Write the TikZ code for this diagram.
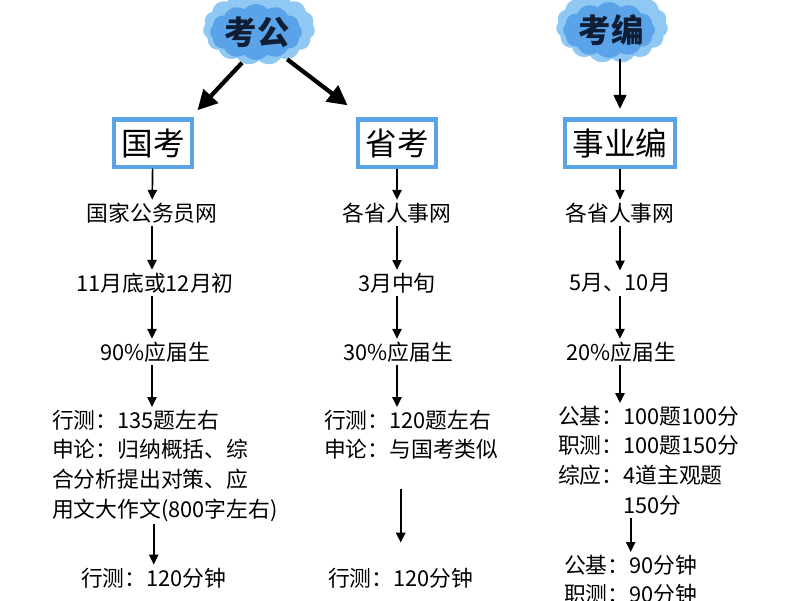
\documentclass[tikz,border=0pt]{standalone}
\usepackage{fontspec}
\setmainfont{Noto Sans CJK SC}
\usetikzlibrary{arrows.meta,calc,shapes.symbols}
\definecolor{BoxBlue}{HTML}{5AA4E6}
\definecolor{CloudLight}{HTML}{8FC8F3}
\definecolor{CloudDark}{HTML}{5AA3E8}
\definecolor{CloudInk}{HTML}{0F1E35}
\tikzset{
    title/.style = {draw=BoxBlue, line width=3pt, rectangle, fill=white,
        minimum height=1.18cm, inner xsep=5.5pt,
        font=\fontsize{22.5}{26}\selectfont},
    cloudbg/.style = {cloud, cloud puffs=15, cloud puff arc=100, fill=CloudLight,
        minimum width=2.8cm, minimum height=1.85cm},
    cloudin/.style = {cloud, cloud puffs=12, cloud puff arc=100, fill=CloudDark,
        minimum width=2.3cm, minimum height=1.4cm},
    head/.style = {font=\bfseries\fontsize{23}{26}\selectfont, text=CloudInk},
    txt/.style = {inner sep=2pt, font=\fontsize{15.5}{21}\selectfont},
    para/.style = {txt, align=left, anchor=north west},
    arrow/.style = {draw, line width=1.2pt, -{Triangle[length=7pt,width=6.5pt]}},
    bigarrow/.style = {draw, line width=3pt, -{Triangle[length=14pt,width=14pt]}},
    midarrow/.style = {draw, line width=1.8pt, -{Triangle[length=10pt,width=9pt]}}
}
\begin{document}
\begin{tikzpicture}[x=0.025cm, y=-0.025cm]
\useasboundingbox (0,0) rectangle (800,600);
\fill[white] (0,0) rectangle (800,600);

% clouds
\node[cloudbg] (kgbg) at (259,28) {};
\node[cloudin] (kgin) at (256,32) {};
\node[head] (kg) at (257,32) {考公};
\node[cloudbg] (kbbg) at (612,26) {};
\node[cloudin] (kbin) at (609,30) {};
\node[head] (kb) at (611,30) {考编};

% boxes
\node[title] (gk) at (153,143) {国考};
\node[title] (sk) at (397,143) {省考};
\node[title] (syb) at (620,143) {事业编};

\draw[bigarrow] (kgbg.244) -- ($(gk.north east)+(3,-7)$);
\draw[bigarrow] (kgbg.312) -- ($(sk.north west)+(-8,-12)$);
\draw[midarrow, shorten >=6pt] (kbbg.south -| syb) -- (syb.north);

% guokao
\node[txt] (g1) at (152,213) {国家公务员网};
\node[txt] (g2) at (155,283) {11月底或12月初};
\node[txt] (g3) at (155,352) {90\%应届生};
\node[para] (gb) at (49,407) {行测：135题左右\\申论：归纳概括、综\\合分析提出对策、应\\用文大作文(800字左右)};
\node[txt, anchor=base west] (g5) at (78,586) {行测：120分钟};
\draw[arrow] (gk) -- (g1);
\draw[arrow] (g1) -- (g1 |- g2.north);
\draw[arrow] (g2.south -| g1) -- (g1 |- g3.north);
\draw[arrow] (g3.south -| g1) -- (g1 |- gb.north);
\draw[arrow] (gb.south -| g5) -- (g5);

% shengkao
\node[txt] (s1) at (397,213) {各省人事网};
\node[txt] (s2) at (397,283) {3月中旬};
\node[txt] (s3) at (398,352) {30\%应届生};
\node[para] (sb) at (321,407) {行测：120题左右\\申论：与国考类似};
\node[txt, anchor=base west] (s5) at (325,586) {行测：120分钟};
\draw[arrow] (sk) -- (s1);
\draw[arrow] (s1) -- (s2);
\draw[arrow] (s2) -- (s2 |- s3.north);
\draw[arrow] (s3.south -| s2) -- (s2 |- sb.north);
\draw[arrow, line width=1.6pt, shorten <=0.65cm, shorten >=0.55cm] (sb.south -| s5) -- (s5);

% shiyebian
\node[txt] (y1) at (620,213) {各省人事网};
\node[txt] (y2) at (620,283) {5月、10月};
\node[txt] (y3) at (621,352) {20\%应届生};
\node[para] (yb) at (555,403) {公基：100题100分\\职测：100题150分\\综应：4道主观题\\\phantom{综应：}150分};
\node[para] (y5) at (561,552) {公基：90分钟\\职测：90分钟};
\draw[arrow, line width=0.8pt] (syb) -- (y1);
\draw[arrow] (y1) -- (y2);
\draw[arrow] (y2) -- (y2 |- y3.north);
\draw[arrow] (y3.south -| y2) -- (y2 |- yb.north);
\draw[arrow] (yb.south -| y5) -- (y5);
\end{tikzpicture}
\end{document}
